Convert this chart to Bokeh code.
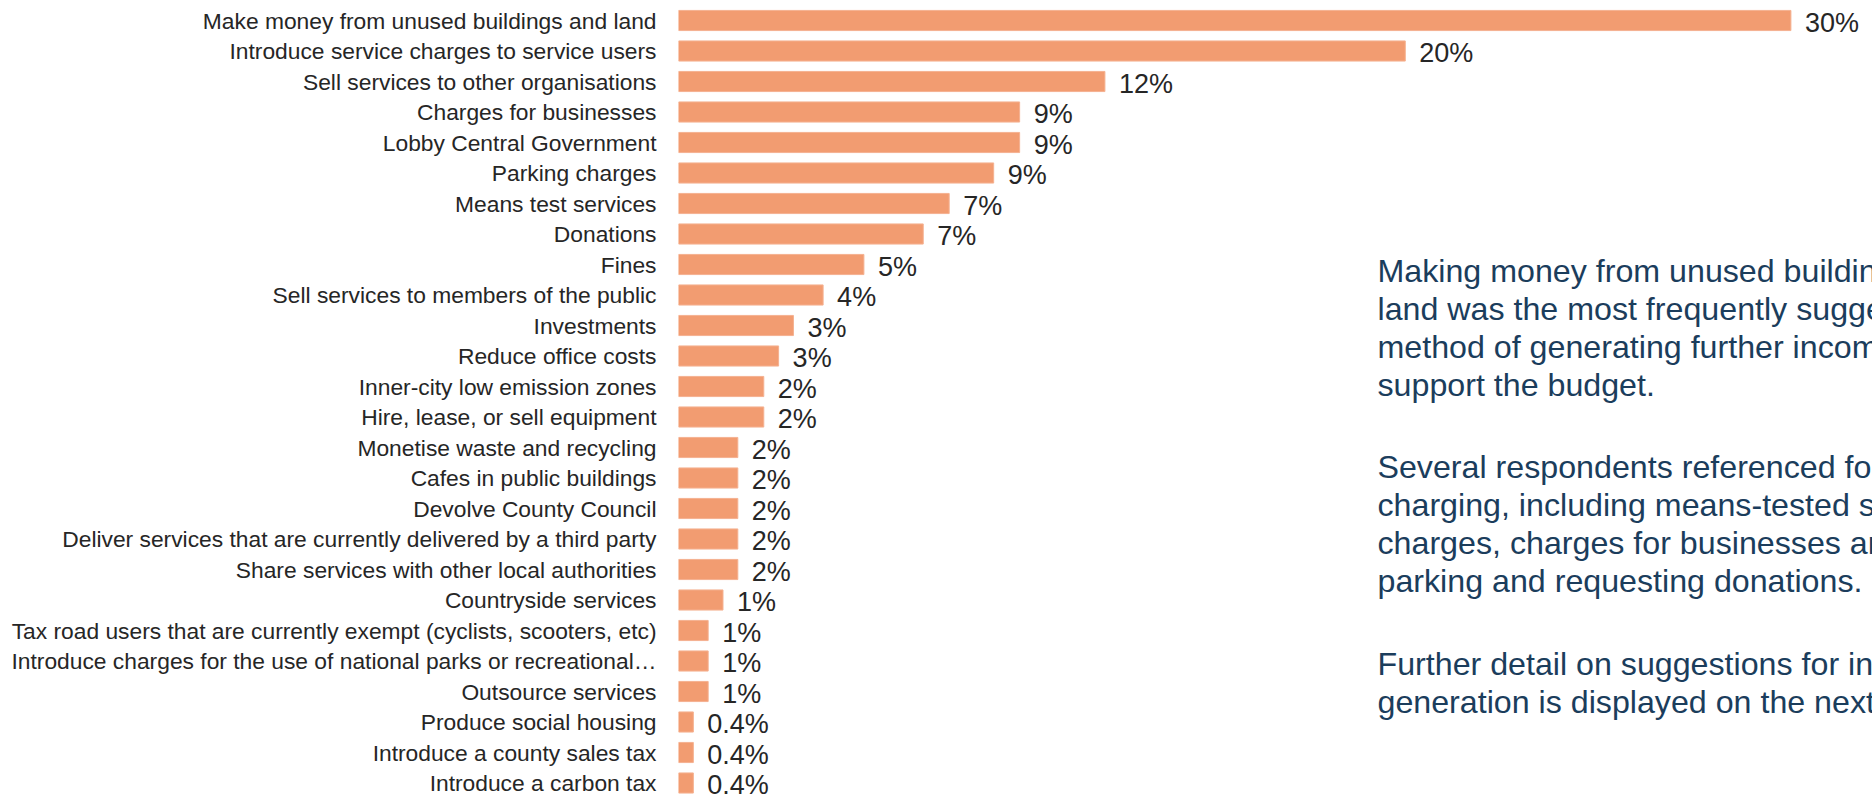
from bokeh.plotting import figure
from bokeh.models import Range1d, FixedTicker, ColumnDataSource, Label
from bokeh.embed import file_html
from bokeh.resources import INLINE
from bokeh.core.properties import value

# ---------------- data ----------------
categories = [
    "Make money from unused buildings and land",
    "Introduce service charges to service users",
    "Sell services to other organisations",
    "Charges for businesses",
    "Lobby Central Government",
    "Parking charges",
    "Means test services",
    "Donations",
    "Fines",
    "Sell services to members of the public",
    "Investments",
    "Reduce office costs",
    "Inner-city low emission zones",
    "Hire, lease, or sell equipment",
    "Monetise waste and recycling",
    "Cafes in public buildings",
    "Devolve County Council",
    "Deliver services that are currently delivered by a third party",
    "Share services with other local authorities",
    "Countryside services",
    "Tax road users that are currently exempt (cyclists, scooters, etc)",
    "Introduce charges for the use of national parks or recreational\u2026",
    "Outsource services",
    "Produce social housing",
    "Introduce a county sales tax",
    "Introduce a carbon tax",
]
shares = [30.0, 19.6, 11.5, 9.2, 9.2, 8.5, 7.3, 6.6, 5.0, 3.9, 3.1, 2.7, 2.3, 2.3,
          1.6, 1.6, 1.6, 1.6, 1.6, 1.2, 0.8, 0.8, 0.8, 0.4, 0.4, 0.4]
share_labels = ["30%", "20%", "12%", "9%", "9%", "9%", "7%", "7%", "5%", "4%", "3%", "3%",
                "2%", "2%", "2%", "2%", "2%", "2%", "2%", "1%", "1%", "1%", "1%",
                "0.4%", "0.4%", "0.4%"]

paragraphs = [
    ["Making money from unused buildings and",
     "land was the most frequently suggested",
     "method of generating further income to",
     "support the budget."],
    ["Several respondents referenced forms of",
     "charging, including means-tested service",
     "charges, charges for businesses and",
     "parking and requesting donations."],
    ["Further detail on suggestions for income",
     "generation is displayed on the next page."],
]

# ---------------- layout ----------------
W, H = 1872, 795
LEFT = 678
PX_PER_PCT = 37.08
PITCH = 30.5
TOP_PAD_PX = 20

n = len(categories)
x_end = (W - LEFT) / PX_PER_PCT
y_top = -TOP_PAD_PX / PITCH
y_bottom = y_top + H / PITCH


def px_to_x(page_x):
    return (page_x - LEFT) / PX_PER_PCT


def py_to_y(page_y):
    return y_top + page_y / PITCH


src = ColumnDataSource(dict(idx=list(range(n)), share=shares, lab=share_labels))

p = figure(width=W, height=H, output_backend="svg", toolbar_location=None,
           x_range=Range1d(0, x_end), y_range=Range1d(y_bottom, y_top),
           min_border_left=LEFT, min_border_right=0, min_border_top=0, min_border_bottom=0)
p.outline_line_color = None
p.xgrid.visible = False
p.ygrid.visible = False
p.xaxis.visible = False

p.hbar(y="idx", left=0, right="share", height=0.66, source=src,
       fill_color="#F29C71", line_color="#F5B190", line_width=1)

p.text(x="share", y="idx", text="lab", source=src, x_offset=14, y_offset=2,
       text_baseline="alphabetic", text_align="left",
       text_font=value("Liberation Sans"), text_font_size="27px", text_color="#262626")

ax = p.yaxis[0]
ax.ticker = FixedTicker(ticks=list(range(n)))
ax.major_label_overrides = {i: c for i, c in enumerate(categories)}
ax.axis_line_color = None
ax.major_tick_line_color = None
ax.minor_tick_line_color = None
ax.major_tick_out = 0
ax.major_tick_in = 0
ax.major_label_standoff = 22
ax.major_label_text_font = "Liberation Sans"
ax.major_label_text_font_size = "22.8px"
ax.major_label_text_color = "#262626"

baselines = [[270, 308.2, 346.4, 384.6], [466, 504.2, 542.4, 580.6], [663, 701.4]]
for para, bls in zip(paragraphs, baselines):
    for line, bl in zip(para, bls):
        p.add_layout(Label(x=px_to_x(1377), y=py_to_y(bl), text=line,
                           text_font="Liberation Sans", text_font_size="32.2px",
                           text_color="#1B3D5C", text_baseline="alphabetic",
                           text_align="left"))

open("out.html", "w").write(file_html(p, INLINE))
